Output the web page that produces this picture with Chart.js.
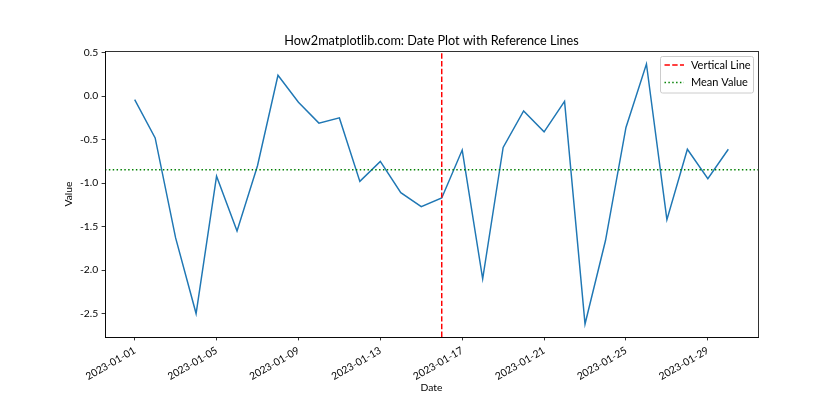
<!DOCTYPE html>
<html><head><meta charset="utf-8">
<script src="https://cdn.jsdelivr.net/npm/chart.js@4/dist/chart.umd.min.js"></script>
<style>html,body{margin:0;padding:0;background:#fff}#wrap{width:840px;height:420px;position:relative}</style>
</head><body><div id="wrap"><canvas id="c" width="840" height="420"></canvas></div>
<script>
const dates = ['2023-01-01','2023-01-02','2023-01-03','2023-01-04','2023-01-05','2023-01-06','2023-01-07','2023-01-08','2023-01-09','2023-01-10',
  '2023-01-11','2023-01-12','2023-01-13','2023-01-14','2023-01-15','2023-01-16','2023-01-17','2023-01-18','2023-01-19','2023-01-20',
  '2023-01-21','2023-01-22','2023-01-23','2023-01-24','2023-01-25','2023-01-26','2023-01-27','2023-01-28','2023-01-29','2023-01-30'];
const values = [-0.04, -0.48, -1.63, -2.50, -0.92, -1.55, -0.80, 0.24, -0.07, -0.31,
  -0.25, -0.98, -0.75, -1.11, -1.27, -1.17, -0.62, -2.10, -0.59, -0.17,
  -0.41, -0.06, -2.62, -1.66, -0.36, 0.37, -1.42, -0.61, -0.95, -0.61];
const xTickDates = ['2023-01-01','2023-01-05','2023-01-09','2023-01-13','2023-01-17','2023-01-21','2023-01-25','2023-01-29'];
const yTickValues = [-2.5, -2.0, -1.5, -1.0, -0.5, 0.0, 0.5];
const verticalDate = '2023-01-16';
const legendLabels = ['Vertical Line', 'Mean Value'];
const titleText = 'How2matplotlib.com: Date Plot with Reference Lines';
const xLabel = 'Date';
const yLabel = 'Value';

const DAY = 86400000;
const t0 = Date.parse(dates[0]);
const dayIdx = d => (Date.parse(d) - t0) / DAY;
const meanValue = values.reduce((a, b) => a + b, 0) / values.length;

const FONT = 'Lato, "Liberation Sans", sans-serif';
const xs = dates.map(dayIdx);
const xMinD = Math.min(...xs), xMaxD = Math.max(...xs);
const xm = (xMaxD - xMinD) * 0.05;
const yMinD = Math.min(...values), yMaxD = Math.max(...values);
const ym = (yMaxD - yMinD) * 0.05;

const DASHED = [5.4, 2.33];
const DOTTED = [1.46, 2.4];

const refPlugin = {
  id: 'refs',
  afterDatasetsDraw(chart) {
    const {ctx, chartArea: a, scales: {x, y}} = chart;
    ctx.save();
    ctx.beginPath(); ctx.rect(a.left, a.top, a.right - a.left, a.bottom - a.top); ctx.clip();
    ctx.lineWidth = 1.46;
    const vx = x.getPixelForValue(dayIdx(verticalDate));
    ctx.strokeStyle = '#ff0000'; ctx.setLineDash(DASHED);
    ctx.beginPath(); ctx.moveTo(vx, a.bottom); ctx.lineTo(vx, a.top); ctx.stroke();
    const my = y.getPixelForValue(meanValue);
    ctx.strokeStyle = '#008000'; ctx.setLineDash(DOTTED);
    ctx.beginPath(); ctx.moveTo(a.left, my); ctx.lineTo(a.right, my); ctx.stroke();
    ctx.restore();
  },
  afterDraw(chart) {
    const {ctx, chartArea: a} = chart;
    ctx.save();
    ctx.strokeStyle = '#000'; ctx.lineWidth = 0.8; ctx.setLineDash([]);
    ctx.strokeRect(Math.round(a.left) + 0.5, Math.round(a.top) + 0.5, Math.round(a.right - a.left), Math.round(a.bottom - a.top));
    ctx.fillStyle = '#000'; ctx.font = '12.7px ' + FONT;
    ctx.textAlign = 'center'; ctx.textBaseline = 'alphabetic';
    ctx.fillText(titleText, (a.left + a.right) / 2, a.top - 6);
    const bw = 93, bh = 36.5;
    const bx = a.right - 5 - bw, by = a.top + 5;
    ctx.fillStyle = 'rgba(255,255,255,0.8)'; ctx.strokeStyle = '#cccccc'; ctx.lineWidth = 1;
    ctx.beginPath(); ctx.roundRect(bx + 0.5, by + 0.5, bw, bh, 2); ctx.fill(); ctx.stroke();
    const rows = [{c: '#ff0000', d: DASHED}, {c: '#008000', d: DOTTED}];
    ctx.font = '11px ' + FONT; ctx.textAlign = 'left'; ctx.textBaseline = 'middle';
    rows.forEach((r, i) => {
      const cy = by + 9 + i * 17.5;
      ctx.strokeStyle = r.c; ctx.lineWidth = 1.46; ctx.setLineDash(r.d);
      ctx.beginPath(); ctx.moveTo(bx + 4.5, cy); ctx.lineTo(bx + 24, cy); ctx.stroke();
      ctx.setLineDash([]); ctx.fillStyle = '#000';
      ctx.fillText(legendLabels[i], bx + 31, cy);
    });
    ctx.restore();
  }
};

new Chart(document.getElementById('c'), {
  type: 'line',
  data: {
    datasets: [{
      label: 'Value',
      data: dates.map((d, i) => ({x: dayIdx(d), y: values[i]})),
      borderColor: '#1f77b4', borderWidth: 1.46, pointRadius: 0, tension: 0, fill: false
    }]
  },
  options: {
    responsive: false, animation: false, devicePixelRatio: 1,
    layout: {padding: {top: 51, right: 82, left: 0, bottom: 0}},
    plugins: {legend: {display: false}, title: {display: false}, tooltip: {enabled: false}},
    scales: {
      x: {
        type: 'linear', min: xMinD - xm, max: xMaxD + xm,
        afterBuildTicks: s => { s.ticks = xTickDates.map(d => ({value: dayIdx(d)})); },
        afterFit: s => { s.height = 83; },
        ticks: {
          color: '#000', font: {family: FONT, size: 10.3}, padding: 4, autoSkip: false,
          maxRotation: 30, minRotation: 30,
          callback: v => new Date(t0 + v * DAY).toISOString().slice(0, 10)
        },
        grid: {drawOnChartArea: false, drawTicks: true, tickLength: 3.4, tickColor: '#000', tickWidth: 0.8},
        border: {display: true, color: '#000', width: 0.8},
        title: {display: true, text: xLabel, color: '#000', font: {family: FONT, size: 10.3}, padding: {top: 0, bottom: 26}}
      },
      y: {
        type: 'linear', min: yMinD - ym, max: yMaxD + ym,
        afterBuildTicks: s => { s.ticks = yTickValues.map(v => ({value: v})); },
        afterFit: s => { s.width = 105; },
        ticks: {
          color: '#000', font: {family: FONT, size: 10.3}, padding: 3.4,
          callback: v => (v < 0 ? '-' : '') + Math.abs(v).toFixed(1)
        },
        grid: {drawOnChartArea: false, drawTicks: true, tickLength: 3.4, tickColor: '#000', tickWidth: 0.8},
        border: {display: true, color: '#000', width: 0.8},
        title: {display: true, text: yLabel, color: '#000', font: {family: FONT, size: 10.3}, padding: {top: 62, bottom: 0}}
      }
    }
  },
  plugins: [refPlugin]
});
</script></body></html>
